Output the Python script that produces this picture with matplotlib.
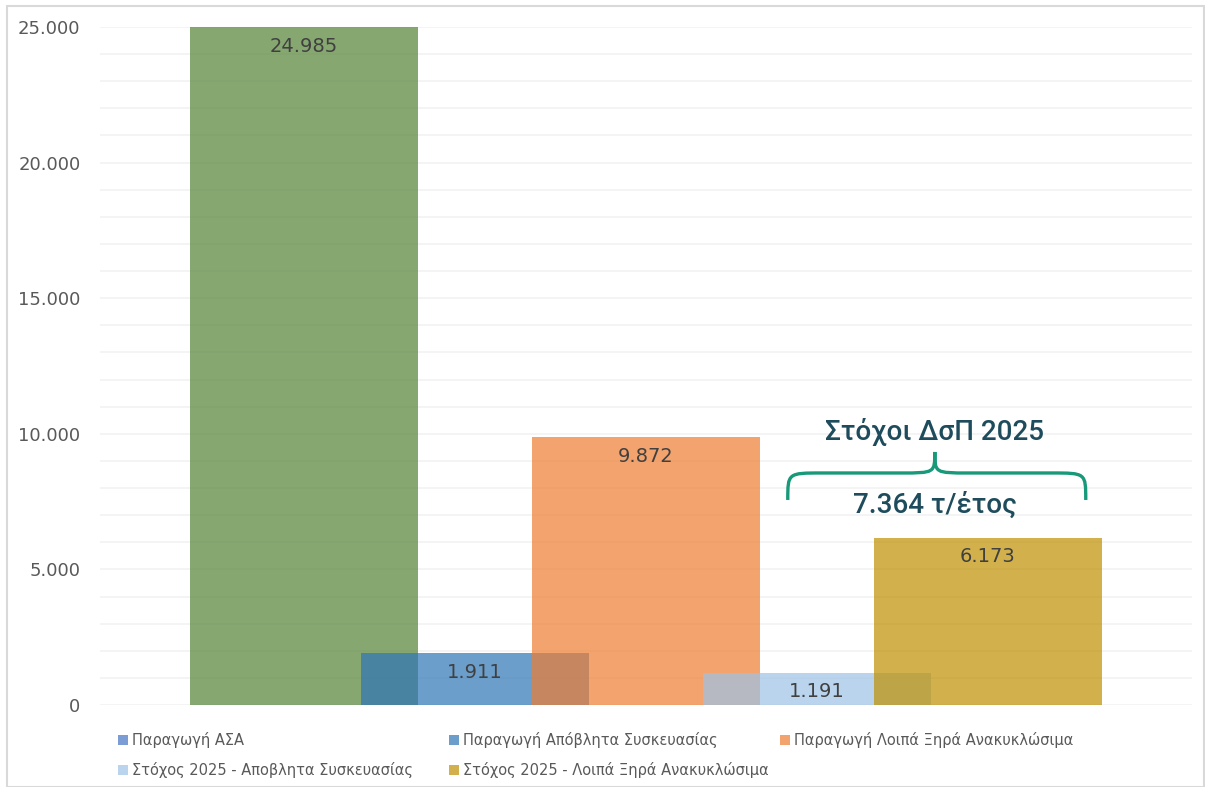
import matplotlib.pyplot as plt
import matplotlib.ticker as mticker
from matplotlib.patches import Rectangle, PathPatch
from matplotlib.path import Path

# waste streams (tonnes / year)
labels = [
    "Παραγωγή ΑΣΑ",
    "Παραγωγή Απόβλητα Συσκευασίας",
    "Παραγωγή Λοιπά Ξηρά Ανακυκλώσιμα",
    "Στόχος 2025 - Αποβλητα Συσκευασίας",
    "Στόχος 2025 - Λοιπά Ξηρά Ανακυκλώσιμα",
]
values = [24985, 1911, 9872, 1191, 6173]
bar_colors = ["#548235", "#2E75B6", "#ED7D31", "#9DC3E6", "#BF9000"]
legend_colors = ["#4472C4", "#2E75B6", "#ED7D31", "#9DC3E6", "#BF9000"]
target_total = 7364

TEXT = "#404040"
TICK = "#595959"
TEAL = "#1E4C5C"
BRACE = "#17997A"
ALPHA = 0.7

fig = plt.figure(figsize=(12.05, 7.87), dpi=100)
ax = fig.add_axes([0.083, 0.1042, 0.906, 0.8615])

xs = list(range(len(values)))
for x, v, c in zip(xs, values, bar_colors):
    ax.bar(x, v, width=1.333, color=c, alpha=ALPHA, zorder=2, linewidth=0)
    ax.annotate(f"{v:,}".replace(",", "."), (x, v), xytext=(0, -7),
                textcoords="offset points", ha="center", va="top",
                fontsize=14, color=TEXT, zorder=3)

ax.set_xlim(-1.193, 5.193)
ax.set_ylim(0, 25000)
ax.yaxis.set_major_locator(mticker.MultipleLocator(5000))
ax.yaxis.set_minor_locator(mticker.MultipleLocator(1000))
ax.yaxis.set_major_formatter(
    mticker.FuncFormatter(lambda v, p: f"{int(v):,}".replace(",", ".")))
ax.grid(axis="y", which="both", color="#F3F3F3", linewidth=1.3, zorder=0)
ax.set_xticks([])
ax.tick_params(axis="y", which="both", length=0, pad=14, labelsize=13,
               labelcolor=TICK)
for s in ax.spines.values():
    s.set_visible(False)

# curly brace over the 2025 targets
xl, xr, xm = 2.83, 4.573, 3.69
yb, yh, yt = 7560, 8555, 9330
dx = 0.2
verts = [
    (xl, yb), (xl, yh), (xl, yh), (xl + dx, yh),
    (xm - dx, yh), (xm, yh), (xm, yh), (xm, yt),
    (xm, yh), (xm, yh), (xm + dx, yh),
    (xr - dx, yh), (xr, yh), (xr, yh), (xr, yb),
]
codes = [Path.MOVETO, Path.CURVE4, Path.CURVE4, Path.CURVE4,
         Path.LINETO, Path.CURVE4, Path.CURVE4, Path.CURVE4,
         Path.CURVE4, Path.CURVE4, Path.CURVE4,
         Path.LINETO, Path.CURVE4, Path.CURVE4, Path.CURVE4]
ax.add_patch(PathPatch(Path(verts, codes), facecolor="none",
                       edgecolor=BRACE, linewidth=2.4, zorder=4))
ax.text(xm, 10070, "Στόχοι ΔσΠ 2025", ha="center", va="center",
        fontsize=20, color=TEAL, family="Roboto", fontweight="medium",
        zorder=4)
ax.text(xm, 7380, f"{target_total:,}".replace(",", ".") + " τ/έτος",
        ha="center", va="center", fontsize=20, color=TEAL,
        family="Roboto", fontweight="medium", zorder=4)

# legend laid out on a fixed 3-column grid
W, H = 1205, 787
for i, (lab, c) in enumerate(zip(labels, legend_colors)):
    col, row = i % 3, i // 3
    px, py = 118 + col * 331, 740 + row * 30
    fig.add_artist(Rectangle((px / W, 1 - (py + 5) / H), 10 / W, 10 / H,
                             transform=fig.transFigure, color=c,
                             alpha=ALPHA, lw=0))
    fig.text((px + 14) / W, 1 - py / H, lab, ha="left", va="center",
             fontsize=10.5, color=TICK)

# chart frame
fig.add_artist(Rectangle((7 / W, 0.0), 1 - 8 / W, 1 - 6 / H,
                         transform=fig.transFigure, fill=False,
                         edgecolor="#D9D9D9", linewidth=1.5))

plt.savefig("out.png", dpi=100)
